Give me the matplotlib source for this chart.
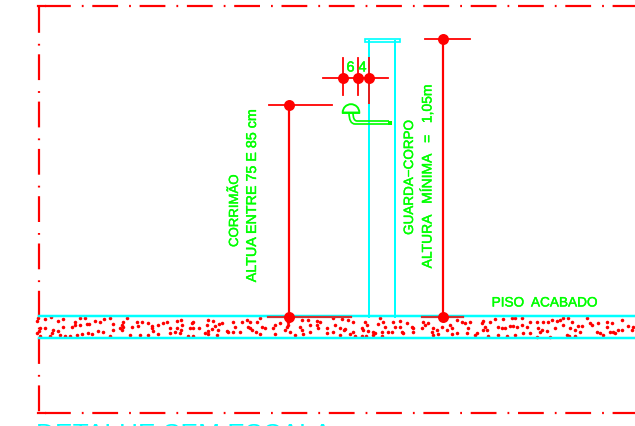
import matplotlib
matplotlib.use('Agg')
import matplotlib.pyplot as plt
import matplotlib.patheffects as pe
from matplotlib.path import Path
from matplotlib.patches import PathPatch, Wedge, Rectangle

plt.rcParams['font.family'] = ['Liberation Sans', 'DejaVu Sans']
plt.rcParams['lines.scale_dashes'] = False

RED = '#ff0000'
CYAN = '#00ffff'
GREEN = '#00ff00'
PX = 0.72  # one pixel in points at dpi 100

speckle_a = [(20,28),(25,18),(45,22),(62,17),(85,28),(100,22),(135,30),(150,20),(165,18),(195,28),(210,32),(222,22),
             (240,20),(250,38),(280,30),(275,40),(290,20),(320,30),(335,30),(355,33),(365,42),(368,58),(385,40),(400,35),
             (410,30),(440,28),(30,48),(28,58),(20,65),(45,50),(70,55),(65,65),(60,72),(85,58),(100,47),(125,45),(135,40),
             (150,40),(170,38),(178,38),(140,70),(155,68),(175,65),(185,68),(205,58),(220,60),(250,55),(270,48),(280,45),
             (305,45),(325,43),(300,70),(330,70),(355,70),(385,68),(420,65),(440,50),(105,72),(120,72),(90,70),(30,72),
             (420,50),(240,72),(275,55),(365,50),(435,60)]
speckle_b = [(3,25),(5,40),(3,55),(0,65),(35,35),(40,30),(30,50),(40,48),(25,72),(40,72),(58,48),(80,40),(85,25),(100,28),
             (105,42),(95,52),(85,58),(75,65),(85,68),(118,38),(125,35),(115,55),(112,70),(140,58),(145,60),(160,30),(165,45),
             (160,60),(185,32),(180,60),(200,25),(210,32),(205,45),(210,50),(215,55),(228,60),(240,68),(240,18),(232,30),
             (245,45),(255,48),(285,40),(300,35),(280,50),(285,68),(320,45),(315,55),(330,60),(345,70),(360,45),(365,55),
             (370,68),(385,25),(390,40),(410,40),(415,48),(440,48),(390,62),(420,30),(440,65),(325,40),(325,30),(365,25),(410,28)]
speckle_c = [(10,20),(35,22),(15,40),(45,52),(42,56),(30,70),(55,25),(70,30),(70,60),(75,72),(95,50),(100,55),(105,30),(110,40),
             (115,58),(95,72),(108,72),(135,65),(130,70),(150,20),(145,38),(165,45),(160,30),(155,62),(155,72),(175,62),(190,30),
             (195,45),(210,28),(210,45),(215,60),(220,65),(230,35),(245,45),(250,60),(280,30),(285,40),(275,48),(295,35),(310,50),
             (305,60),(320,55),(310,70),(335,45),(350,55),(325,68),(360,40),(365,48),(380,25),(395,30),(405,35),(420,30),(415,50),
             (365,68),(380,65),(410,65),(440,65),(435,70),(60,68),(30,48),(10,60),(130,60),(185,60),(250,48)]
speckle_d = [(10,28),(5,35),(15,45),(8,55),(30,30),(45,22),(55,45),(65,50),(75,50),(70,22),(95,18),(105,18),(90,42),(100,42),
             (110,45),(125,20),(125,40),(140,45),(150,30),(170,32),(175,50),(185,55),(180,60),(200,58),(190,30),(205,30),(215,25),
             (230,28),(240,25),(225,50),(250,40),(250,20),(265,20),(275,30),(270,50),(285,55),(295,42),(305,42),(300,60),(320,20),
             (330,35),(335,40),(355,35),(350,60),(360,65),(380,30),(395,35),(380,45),(400,60),(405,65),(415,55),(425,55),(445,42),
             (425,25),(25,72),(55,70),(80,72),(105,70),(130,65),(150,65),(170,75),(210,75),(260,70),(268,72),(285,72),(370,70),
             (390,60),(455,55),(460,45),(20,55)]
speckle_crops = [(30, speckle_a), (180, speckle_b), (330, speckle_c), (480, speckle_d)]

dim_dots_x = [289, 443, 289, 443, 342.5, 358, 369]
dim_dots_y = [105, 39, 317, 317, 78, 78, 78]

fig = plt.figure(figsize=(6.35, 4.27), dpi=100)
ax = fig.add_axes([0, 0, 1, 1])
ax.set_xlim(0, 635)
ax.set_ylim(426.5, -0.5)
ax.axis('off')

# dash-dot frame, period about 47 px
frame_style = (0, (25.8 * PX, 11 * PX, 1.8 * PX, 8.7 * PX))
ax.plot([39, 39], [7, 413], color=RED, lw=2.2 * PX, ls=frame_style, dash_capstyle='butt')
ax.plot([45, 635], [6.7, 6.7], color=RED, lw=2.2 * PX, ls=frame_style, dash_capstyle='butt')
ax.plot([45, 635], [413, 413], color=RED, lw=2.2 * PX, ls=frame_style, dash_capstyle='butt')
ax.plot([38, 45], [6.7, 6.7], color=RED, lw=2.2 * PX)
ax.plot([38, 45], [413, 413], color=RED, lw=2.2 * PX)

# floor slab
for left, pts in speckle_crops:
    xs = [left + p[0] / 3 for p in pts]
    ys = [312 + p[1] / 3 for p in pts]
    ax.scatter(xs, ys, s=6.5, marker='o', color=RED, linewidths=0, zorder=2)
ax.plot([39, 635], [316.8, 316.8], color=CYAN, lw=2.5 * PX, zorder=3)
ax.plot([39, 635], [338, 338], color=CYAN, lw=2.5 * PX, zorder=3)
ax.plot([268, 351], [317, 317], color='#d03030', lw=2.2 * PX, zorder=4)
ax.plot([422, 463], [317, 317], color='#d03030', lw=2.2 * PX, zorder=4)

# guard rail post
ax.plot([369, 369], [41, 317], color=CYAN, lw=2 * PX, zorder=3)
ax.plot([395, 395], [41, 317], color=CYAN, lw=2 * PX, zorder=3)
ax.add_patch(Rectangle((365, 39), 35, 3.2, fill=False, ec=CYAN, lw=1.7 * PX, zorder=3))

# dimension lines
ax.plot([289, 289], [105, 317], color=RED, lw=2.2 * PX, zorder=5)
ax.plot([443, 443], [39, 317], color=RED, lw=2.2 * PX, zorder=5)
ax.plot([269, 332], [105, 105], color=RED, lw=1.8 * PX, zorder=5)
ax.plot([425, 470], [39, 39], color=RED, lw=1.8 * PX, zorder=5)
ax.plot([323, 388], [78, 78], color=RED, lw=1.8 * PX, zorder=5)
ax.plot([342.5, 342.5], [58, 95], color=RED, lw=1.8 * PX, zorder=5)
ax.plot([358, 358], [58, 95], color=RED, lw=1.8 * PX, zorder=5)
ax.plot([369, 369], [58, 103], color='#e02020', lw=2 * PX, zorder=5)
ax.plot(dim_dots_x, dim_dots_y, ls='none', marker='o', ms=11 * PX, color=RED, mew=0, zorder=6)

# handrail
ax.add_patch(Wedge((351, 113), 8.3, 180, 360, fc='white', ec=GREEN, lw=1.9 * PX, zorder=7))
ax.plot([342.7, 359.3], [113, 113], color=GREEN, lw=1.9 * PX, zorder=7)
for path_pts in ([(349, 113), (349, 124.5), (355, 124.5), (389, 124.5)],
                 [(353, 113), (353, 121.5), (357, 121.5), (389, 121.5)]):
    codes = [Path.MOVETO, Path.CURVE3, Path.CURVE3, Path.LINETO]
    ax.add_patch(PathPatch(Path(path_pts, codes), fill=False, ec=GREEN, lw=1.7 * PX, zorder=7))
ax.plot([389.5], [123], marker='s', ms=5 * PX, color=GREEN, mew=0, zorder=7)

# labels
stroke = [pe.withStroke(linewidth=0.3, foreground=GREEN)]
txt = dict(color=GREEN, zorder=8, path_effects=stroke)
ax.text(235, 211, 'CORRIMÃO', rotation=90, ha='center', va='center', fontsize=9.5, **txt)
ax.text(252, 196.5, 'ALTUA ENTRE 75 E 85 cm', rotation=90, ha='center', va='center', fontsize=10.3, **txt)
ax.text(410, 178, 'GUARDA−CORPO', rotation=90, ha='center', va='center', fontsize=9.7, **txt)
ax.text(427, 177, 'ALTURA   MÍNIMA   =   1,05m', rotation=90, ha='center', va='center', fontsize=10, **txt)
ax.text(544.5, 303, 'PISO  ACABADO', ha='center', va='center', fontsize=9.8, **txt)
ax.text(350.5, 68, '6', ha='center', va='center', fontsize=10.5, **txt)
ax.text(362.5, 68, '4', ha='center', va='center', fontsize=10.5, **txt)

# title cut off by the lower edge of the picture
ax.text(184, 442, 'DETALHE SEM ESCALA', ha='center', va='baseline', fontsize=19, color=CYAN, clip_on=True)

fig.savefig('out.png', dpi=100)
